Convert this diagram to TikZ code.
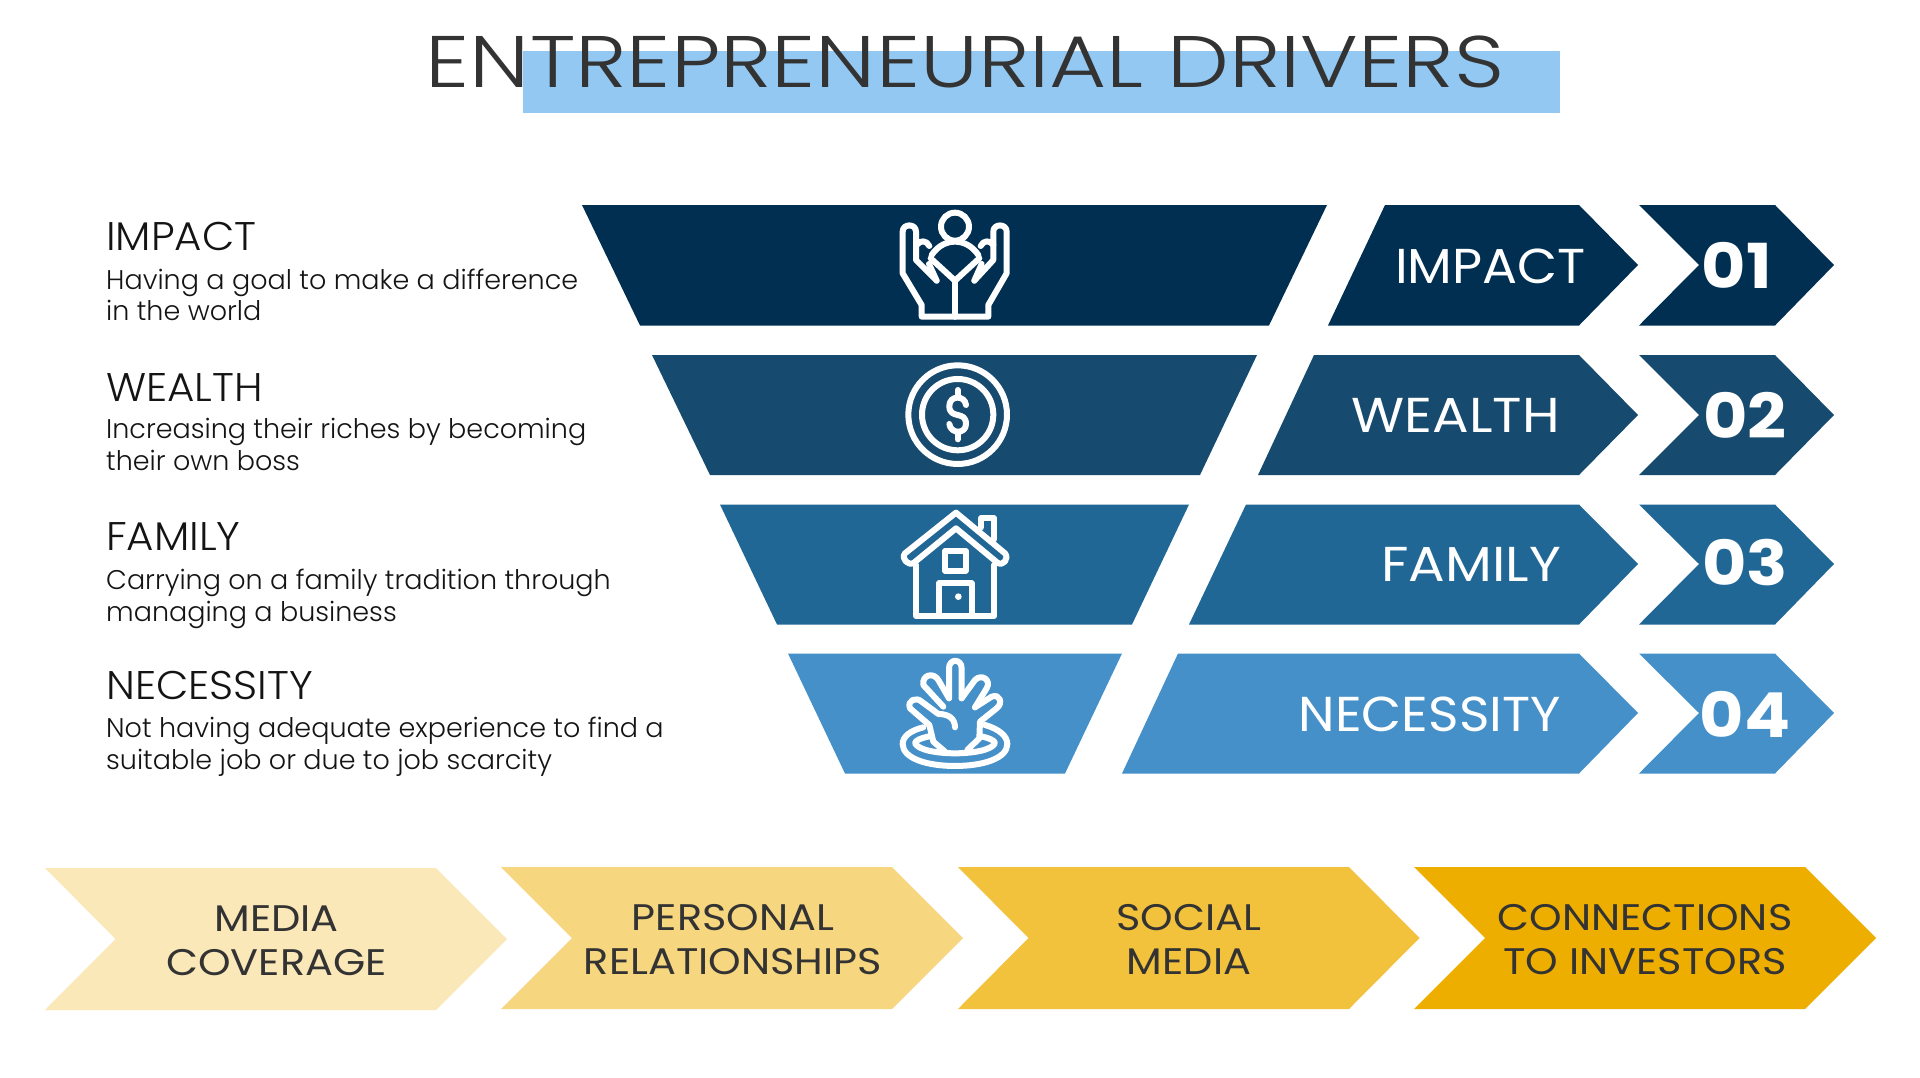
\documentclass[tikz,border=0pt]{standalone}
\usepackage{fontspec}
\setmainfont{Poppins}
\newfontfamily\lightf{Poppins Light}
\newfontfamily\titlef{Poppins Light}[FakeStretch=1.2]
\newfontfamily\headf{Poppins Light}[FakeStretch=1.05]
\newfontfamily\labelf{Poppins}[FakeStretch=1.11]
\newfontfamily\labelnarrowf{Poppins}[FakeStretch=1.06]
\newfontfamily\numf{Poppins}[FakeStretch=1.1]
\newfontfamily\botf{Poppins}[FakeStretch=1.12]
\definecolor{navA}{HTML}{002F52}
\definecolor{navB}{HTML}{164A6E}
\definecolor{navC}{HTML}{216796}
\definecolor{navD}{HTML}{4590C8}
\definecolor{band}{HTML}{93C8F2}
\definecolor{yelA}{HTML}{FBE8B8}
\definecolor{yelB}{HTML}{F7D680}
\definecolor{yelC}{HTML}{F2C23C}
\definecolor{yelD}{HTML}{EDAE00}
\definecolor{ink}{HTML}{333333}
\definecolor{inkB}{HTML}{141414}
\tikzset{
 iconline/.style={draw=white,line width=6pt,line cap=round,line join=round},
 titletext/.style={inner sep=0,anchor=base,text=ink,font=\titlef\fontsize{73}{73}\selectfont},
 headtext/.style={inner sep=0,anchor=base west,text=inkB,font=\headf\fontsize{40}{40}\selectfont},
 desctext/.style={inner sep=0,anchor=base west,text=inkB,font=\lightf\fontsize{27}{27}\selectfont},
 labeltext/.style={inner sep=0,anchor=base east,text=white,font=\labelf\fontsize{49}{49}\selectfont},
 labelnarrow/.style={labeltext,font=\labelnarrowf\fontsize{49}{49}\selectfont},
 numtext/.style={inner sep=0,anchor=base,text=white,font=\numf\bfseries\fontsize{62}{62}\selectfont},
 bottext/.style={inner sep=0,anchor=base,text=ink,font=\botf\fontsize{37}{37}\selectfont},
 icon/.style={x=0.3333pt,y=-0.3333pt}
}
\begin{document}
\begin{tikzpicture}[x=1pt,y=-1pt]
\useasboundingbox (0,0) rectangle (1920,1077);
\fill[white] (0,0) rectangle (1920,1077);
% title
\fill[band] (523,51) rectangle (1560,113);
\node[titletext] (title) at (965,87) {ENTREPRENEURIAL DRIVERS};
% funnel
\fill[navA] (582,205) -- (1327,205) -- (1269,325.5) -- (640,325.5) -- cycle;
\fill[navB] (652,355) -- (1257,355) -- (1200,475) -- (710,475) -- cycle;
\fill[navC] (720,504.5) -- (1189,504.5) -- (1132,624.5) -- (777,624.5) -- cycle;
\fill[navD] (788,653.5) -- (1122,653.5) -- (1065,773.5) -- (845,773.5) -- cycle;
% label chevrons
\fill[navA] (1385,205) -- (1579,205) -- (1638,265) -- (1579,325.5) -- (1328,325.5) -- cycle;
\fill[navB] (1314,355) -- (1579,355) -- (1638,415) -- (1579,475) -- (1258,475) -- cycle;
\fill[navC] (1246,504.5) -- (1579,504.5) -- (1638,564) -- (1579,624.5) -- (1189,624.5) -- cycle;
\fill[navD] (1178,653.5) -- (1579,653.5) -- (1638,713) -- (1579,773.5) -- (1122,773.5) -- cycle;
% number chevrons
\fill[navA] (1639,205) -- (1775,205) -- (1834,265) -- (1775,325.5) -- (1639,325.5) -- (1699,265) -- cycle;
\fill[navB] (1639,355) -- (1775,355) -- (1834,415) -- (1775,475) -- (1639,475) -- (1699,415) -- cycle;
\fill[navC] (1639,504.5) -- (1775,504.5) -- (1834,564) -- (1775,624.5) -- (1639,624.5) -- (1699,564) -- cycle;
\fill[navD] (1639,653.5) -- (1775,653.5) -- (1834,713) -- (1775,773.5) -- (1639,773.5) -- (1699,713) -- cycle;
% bottom chevrons
\fill[yelA] (45,868) -- (436,868) -- (507,939) -- (436,1010) -- (45,1010) -- (115.5,939) -- cycle;
\fill[yelB] (501,867) -- (892,867) -- (963,938) -- (892,1009) -- (501,1009) -- (572,938) -- cycle;
\fill[yelC] (958,867) -- (1349,867) -- (1419.5,938) -- (1349,1009) -- (958,1009) -- (1028.5,938) -- cycle;
\fill[yelD] (1414,867) -- (1805,867) -- (1876,938) -- (1805,1009) -- (1414,1009) -- (1485,938) -- cycle;
% left texts
\node[headtext] (h1) at (106,250) {IMPACT};
\node[desctext] (d1a) at (106,289) {Having a goal to make a difference};
\node[desctext] (d1b) at (106,320) {in the world};
\node[headtext] (h2) at (106,401) {WEALTH};
\node[desctext] (d2a) at (106,438) {Increasing their riches by becoming};
\node[desctext] (d2b) at (106,470) {their own boss};
\node[headtext] (h3) at (106,550) {FAMILY};
\node[desctext] (d3a) at (106,589) {Carrying on a family tradition through};
\node[desctext] (d3b) at (106,621) {managing a business};
\node[headtext] (h4) at (106,699) {NECESSITY};
\node[desctext] (d4a) at (106,737) {Not having adequate experience to find a};
\node[desctext] (d4b) at (106,769) {suitable job or due to job scarcity};
% chevron labels
\node[labelnarrow] (l1) at (1586,283) {IMPACT};
\node[labeltext] (l2) at (1560,432.5) {WEALTH};
\node[labeltext] (l3) at (1561,581.5) {FAMILY};
\node[labelnarrow] (l4) at (1561,731.5) {NECESSITY};
\node[numtext] (n1) at (1737,288) {01};
\node[numtext] (n2) at (1745,438.5) {02};
\node[numtext] (n3) at (1745,585) {03};
\node[numtext] (n4) at (1745,737.5) {04};
% bottom labels
\node[bottext] (b1a) at (276.5,931) {MEDIA};
\node[bottext] (b1b) at (276.5,975) {COVERAGE};
\node[bottext] (b2a) at (733,930) {PERSONAL};
\node[bottext] (b2b) at (733,974) {RELATIONSHIPS};
\node[bottext] (b3a) at (1189,930) {SOCIAL};
\node[bottext] (b3b) at (1189,974) {MEDIA};
\node[bottext] (b4a) at (1645,930) {CONNECTIONS};
\node[bottext] (b4b) at (1645,974) {TO INVESTORS};
% icon 1: hands
\begin{scope}[shift={(860,190)},icon]
 \draw[iconline] (285,110) circle[radius=42];
 \draw[iconline] (215,195) .. controls (235,165) and (262,155) .. (285,155) .. controls (308,155) and (335,165) .. (355,195);
 \draw[iconline] (212,205) -- (285,272) -- (358,205);
 \draw[iconline] (285,272) -- (285,380);
 \draw[iconline] (207,222) -- (230,272);
 \draw[iconline] (365,222) -- (343,272);
 \draw[iconline] (285,380) -- (185,380) -- (185,345) -- (128,250) -- (128,125) .. controls (128,100) and (168,100) .. (168,125) -- (168,210) -- (230,272);
 \draw[iconline] (285,380) -- (385,380) -- (385,345) -- (440,250) -- (440,125) .. controls (440,100) and (400,100) .. (400,125) -- (400,210) -- (343,272);
 \draw[iconline] (170,165) .. controls (180,150) and (200,150) .. (208,168);
 \draw[iconline] (400,165) .. controls (390,150) and (370,150) .. (362,168);
\end{scope}
% icon 2: coin
\begin{scope}[shift={(860,190)},icon]
 \draw[iconline] (293,674) circle[radius=148];
 \draw[iconline] (293,674) circle[radius=107];
 \draw[iconline] (293,600) -- (293,622);
 \draw[iconline] (293,726) -- (293,748);
 \draw[iconline] (318,645) .. controls (315,615) and (268,615) .. (268,648) .. controls (268,690) and (318,660) .. (318,702) .. controls (318,733) and (272,733) .. (268,702);
\end{scope}
% icon 3: house
\begin{scope}[shift={(860,490)},icon]
 \draw[iconline] (288,68) -- (435,190) .. controls (448,205) and (430,230) .. (412,218) -- (288,115) -- (162,218) .. controls (145,230) and (122,205) .. (135,190) -- cycle;
 \draw[iconline] (363,112) -- (363,85) -- (402,85) -- (402,148);
 \draw[iconline] (168,225) -- (168,378) -- (402,378) -- (402,225);
 \draw[iconline] (255,183) rectangle (317,242);
 \draw[iconline] (237,378) -- (237,280) -- (335,280) -- (335,378);
 \fill[white] (295,320) circle[radius=10];
\end{scope}
% icon 4: hand in hole
\begin{scope}[shift={(860,490)},icon]
 \draw[iconline] (190,712) .. controls (150,722) and (128,740) .. (128,762) .. controls (128,805) and (200,828) .. (285,828) .. controls (370,828) and (442,805) .. (442,762) .. controls (442,740) and (420,718) .. (375,705);
 \draw[iconline] (212,738) .. controls (180,745) and (165,752) .. (165,760) .. controls (175,780) and (230,790) .. (285,790) .. controls (340,790) and (395,780) .. (405,760) .. controls (405,752) and (390,745) .. (360,738);
 \draw[iconline] (255,785) -- (220,755) -- (208,705) -- (150,655) .. controls (140,630) and (170,620) .. (185,635) -- (235,672) .. controls (265,672) and (285,685) .. (285,712);
 \draw[iconline] (250,650) -- (190,585) .. controls (185,555) and (220,545) .. (235,570) -- (267,625);
 \draw[iconline] (267,625) -- (267,535) .. controls (267,505) and (305,505) .. (305,535) -- (305,625);
 \draw[iconline] (305,625) -- (345,570) .. controls (365,550) and (395,570) .. (380,595) -- (345,652);
 \draw[iconline] (345,652) -- (395,620) .. controls (420,610) and (430,640) .. (410,655) -- (360,695) -- (358,745) -- (322,780);
\end{scope}
\end{tikzpicture}
\end{document}
